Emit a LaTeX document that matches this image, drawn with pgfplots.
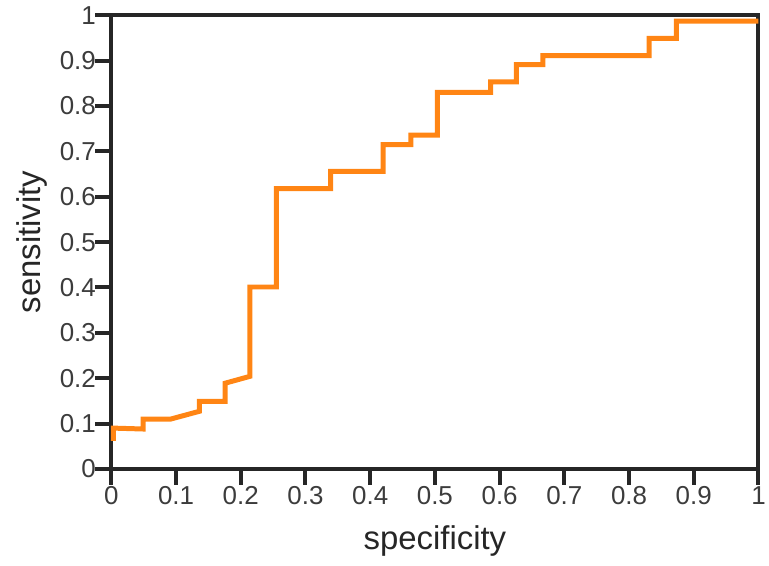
\documentclass[border=0pt]{standalone}
\usepackage{pgfplots}
\pgfplotsset{compat=1.18}
\usepackage{fontspec}
\setmainfont{Liberation Sans}
\definecolor{rocorange}{RGB}{255,133,20}
\definecolor{axgray}{RGB}{38,38,38}

\begin{document}
\begin{tikzpicture}
\begin{axis}[
    width=649pt, height=455pt,
    scale only axis,
    xmin=0, xmax=1, ymin=0, ymax=1,
    xtick={0,0.1,...,1}, ytick={0,0.1,...,1},
    xticklabels={0,0.1,0.2,0.3,0.4,0.5,0.6,0.7,0.8,0.9,1},
    yticklabels={0,0.1,0.2,0.3,0.4,0.5,0.6,0.7,0.8,0.9,1},
    tick pos=left,
    tick align=outside,
    major tick length=16pt,
    every tick/.style={axgray, line width=4pt},
    axis line style={axgray, line width=4pt},
    tick label style={font=\fontsize{26}{29}\selectfont, text=axgray!90},
    xticklabel style={yshift=2pt},
    yticklabel style={xshift=4pt},
    label style={font=\fontsize{33}{38}\selectfont, text=axgray},
    xlabel={specificity},
    ylabel={sensitivity},
    xlabel style={yshift=-14pt},
    ylabel style={yshift=6pt},
    clip=false,
]
\addplot[rocorange, line width=5pt, line join=miter] coordinates {
    (0.003,0.062) (0.003,0.090) (0.049,0.088) (0.049,0.110)
    (0.092,0.110) (0.136,0.127) (0.136,0.149) (0.176,0.149)
    (0.176,0.189) (0.214,0.204) (0.214,0.401) (0.255,0.401)
    (0.255,0.618) (0.339,0.618) (0.339,0.656) (0.420,0.656)
    (0.420,0.715) (0.463,0.715) (0.463,0.736) (0.504,0.736)
    (0.504,0.830) (0.586,0.830) (0.586,0.853) (0.626,0.853)
    (0.626,0.891) (0.667,0.891) (0.667,0.911) (0.831,0.911)
    (0.831,0.949) (0.873,0.949) (0.873,0.987) (1.000,0.987)
};
\end{axis}
\path (current axis.outer north) ++(0,3pt);
\path (current axis.outer south) ++(0,-6pt);
\path (current axis.outer west) ++(-13pt,0);
\end{tikzpicture}
\end{document}
